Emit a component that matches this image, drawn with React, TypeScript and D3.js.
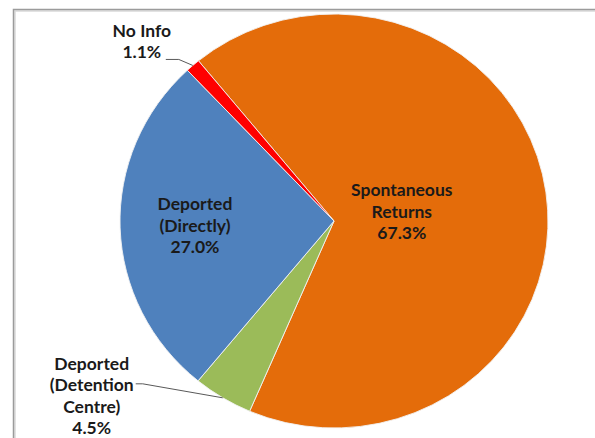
import React from 'react';
import * as d3 from 'd3';

// slices in clockwise order, starting from the orange slice
const categories = ['Spontaneous Returns', 'Deported (Detention Centre)', 'Deported (Directly)', 'No Info'];
const labelLines = [['Spontaneous', 'Returns'], ['Deported', '(Detention', 'Centre)'], ['Deported', '(Directly)'], ['No Info']];
const shares = [67.3, 4.5, 27.0, 1.1];
const colors = ['#E46C0A', '#9BBB59', '#4F81BD', '#FF0000'];

const W = 595;
const H = 438;
const cx = 334;
const cy = 221;
const R = 210;
const sx = 214 / R;
const sy = 207 / R;
const firstAngle = -39.3;
const lineH = 21.5;

// label layout: inside labels use a radius factor, outside ones an offset from the edge point
const layout = [
  { inside: true, k: 0.32 },
  { inside: false, off: [-131, -2], leader: [[-80, -14], [-87, -14]] },
  { inside: true, k: 0.65 },
  { inside: false, off: [-51, -24], leader: [[-14, -6], [-27, -6]] },
];

export default function App() {
  const start = (firstAngle * Math.PI) / 180;
  const pie = d3.pie<number>().sort(null).value(d => d).startAngle(start).endAngle(start + 2 * Math.PI);
  const arcs = pie(shares);
  const arc = d3.arc<d3.PieArcDatum<number>>().innerRadius(0).outerRadius(R);

  const pt = (a: number, r: number) => [cx + sx * r * Math.sin(a), cy - sy * r * Math.cos(a)];

  return (
    <svg width={W} height={H} style={{ position: 'absolute', left: 0, top: 0, background: '#fff' }}
      fontFamily="Lato, 'Open Sans', sans-serif" fontWeight="bold" fontSize={17.5}>
      <rect x={15} y={11} width={700} height={600} fill="none" stroke="#D9D9D9" strokeWidth={1.5} />
      <rect x={13.5} y={9.5} width={700} height={600} fill="none" stroke="#9B9B9B" strokeWidth={1.5} />
      <g transform={`translate(${cx},${cy}) scale(${sx},${sy})`}>
        {arcs.map((d, i) => (
          <path key={categories[i]} d={arc(d) || ''} fill={colors[i]} stroke="#F2F2F2" strokeWidth={0.9} />
        ))}
      </g>
      {arcs.map((d, i) => {
        const mid = (d.startAngle + d.endAngle) / 2;
        const L = layout[i];
        const lines = [...labelLines[i], `${shares[i].toFixed(1)}%`];
        let tx: number, ty: number;
        let leader = null;
        if (L.inside) {
          [tx, ty] = pt(mid, R * (L.k as number));
        } else {
          const [ex, ey] = pt(mid, R);
          tx = ex + L.off![0];
          ty = ey + L.off![1];
          const pts = [[ex, ey], ...L.leader!.map(p => [ex + p[0], ey + p[1]])];
          leader = <path d={d3.line()(pts as [number, number][]) || ''} fill="none" stroke="#595959" strokeWidth={1} />;
        }
        const top = ty - ((lines.length - 1) / 2) * lineH;
        return (
          <g key={categories[i]}>
            {leader}
            <text textAnchor="middle" fill="#1a1a1a">
              {lines.map((s, j) => (
                <tspan key={j} x={tx} y={top + j * lineH} dy="0.35em">{s}</tspan>
              ))}
            </text>
          </g>
        );
      })}
    </svg>
  );
}
